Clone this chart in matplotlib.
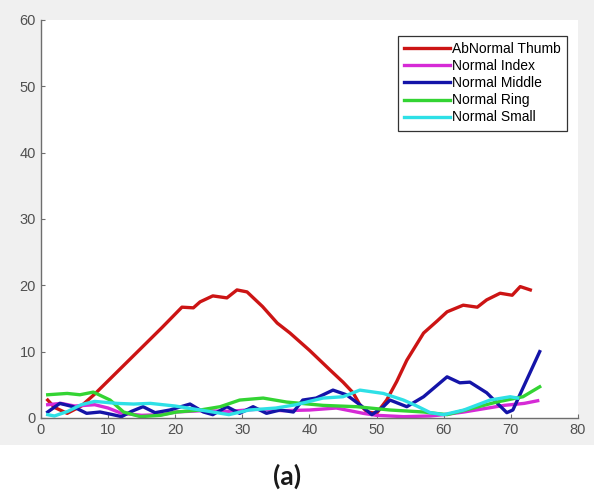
import matplotlib.pyplot as plt
from matplotlib.patches import Rectangle

thumb_x = [1, 2, 3.9, 6, 8, 10, 12, 14, 16, 18, 21, 22.7, 23.7, 25.6, 27.7, 29.2, 30.7, 33, 35.2,
           37.1, 40, 43.1, 45, 46.5, 47.5, 48.6, 50, 51.5, 53, 54.5, 57, 59, 60.5, 62.9, 65, 66.4,
           68.4, 70.2, 71.4, 72.9]
thumb_y = [2.7, 1.6, 0.7, 1.8, 3.6, 5.6, 7.6, 9.6, 11.6, 13.6, 16.7, 16.6, 17.5, 18.4, 18.1, 19.3,
           19.0, 16.8, 14.3, 12.8, 10.2, 7.2, 5.4, 3.8, 2.0, 0.9, 0.7, 2.7, 5.5, 8.7, 12.8, 14.6,
           16.0, 17.0, 16.7, 17.8, 18.8, 18.5, 19.8, 19.3]

index_x = [1, 3, 5, 8, 10, 12, 15, 18, 20, 24, 28, 32, 36, 40, 44, 48, 50, 54, 58, 60, 63, 66,
           69, 72, 74]
index_y = [2.0, 2.2, 1.8, 2.0, 1.5, 0.7, 0.4, 0.5, 0.9, 1.1, 1.0, 1.3, 1.1, 1.2, 1.5, 0.7, 0.4,
           0.2, 0.3, 0.5, 0.9, 1.4, 1.9, 2.2, 2.6]

middle_x = [1, 2.8, 4.8, 6.8, 8.8, 10.7, 12, 13.5, 15.2, 17, 19.2, 22.2, 24.2, 25.6, 27.7, 29.6,
            31.6, 33.6, 35.6, 37.6, 39, 41, 43.5, 45.5, 47.5, 49.3, 51, 52, 54.5, 57, 60.5, 62.4,
            63.9, 66.4, 67.9, 69.4, 70.3, 74.3]
middle_y = [0.9, 2.2, 1.7, 0.7, 0.9, 0.5, 0.2, 1.0, 1.7, 0.8, 1.2, 2.1, 0.9, 0.5, 1.7, 0.7, 1.7,
            0.7, 1.2, 0.9, 2.7, 3.0, 4.2, 3.5, 2.0, 0.5, 1.7, 2.7, 1.7, 3.2, 6.2, 5.3, 5.4, 3.8,
            2.3, 0.8, 1.2, 10.0]

ring_x = [1, 3.9, 5.8, 7.8, 10.3, 12.3, 14.8, 17.8, 20.2, 23.7, 26.7, 29.6, 33.1, 36.6, 42, 47,
          52, 57, 60.5, 64.4, 67.9, 71.8, 74.3]
ring_y = [3.5, 3.7, 3.5, 3.9, 2.7, 0.9, 0.2, 0.4, 0.9, 1.2, 1.7, 2.7, 3.0, 2.4, 1.9, 1.7, 1.2,
          0.9, 0.5, 1.5, 2.4, 3.2, 4.7]

small_x = [1, 2, 4, 6, 8, 11.3, 13.8, 16.3, 20, 25, 28, 31, 35, 38, 40, 42, 45, 47.5, 51, 54,
           56, 58, 60, 63, 66.9, 69.9, 71]
small_y = [0.5, 0.3, 1.0, 2.0, 2.5, 2.2, 2.1, 2.2, 1.8, 1.0, 0.5, 1.2, 1.5, 2.0, 2.5, 3.0, 3.2,
           4.2, 3.7, 2.7, 1.8, 0.8, 0.5, 1.2, 2.7, 3.2, 3.0]

series = [
    ('AbNormal Thumb', thumb_x, thumb_y, '#cc1414'),
    ('Normal Index', index_x, index_y, '#d62ad6'),
    ('Normal Middle', middle_x, middle_y, '#1414a8'),
    ('Normal Ring', ring_x, ring_y, '#33d433'),
    ('Normal Small', small_x, small_y, '#2ee0e6'),
]

plt.rcParams['font.family'] = ['Liberation Sans', 'DejaVu Sans']

fig = plt.figure(figsize=(5.94, 4.97), dpi=100, facecolor='white')
# grey matlab-style figure background (screenshot area)
fig.add_artist(Rectangle((0, 0.105), 1, 0.895, transform=fig.transFigure,
                         facecolor='#f0f0f0', edgecolor='none', zorder=-10))

ax = fig.add_axes([0.069, 0.159, 0.904, 0.801])
ax.set_zorder(5)
ax.set_facecolor('white')
for name, xs, ys, col in series:
    ax.plot(xs, ys, color=col, lw=2.4, label=name, solid_joinstyle='round')

ax.set_xlim(0, 80)
ax.set_ylim(0, 60)
ax.set_xticks(range(0, 81, 10))
ax.set_yticks(range(0, 61, 10))
ax.spines['top'].set_visible(False)
ax.spines['right'].set_visible(False)
for s in ('left', 'bottom'):
    ax.spines[s].set_color('#6e6e6e')
    ax.spines[s].set_linewidth(1.0)
ax.tick_params(direction='in', length=3, color='#6e6e6e', labelcolor='#505050', labelsize=10.5)

leg = ax.legend(loc='upper right', bbox_to_anchor=(0.987, 0.97), fontsize=10,
                fancybox=False, framealpha=1, edgecolor='#333333', handlelength=3.3,
                handletextpad=0.15, labelspacing=0.22, borderpad=0.45, borderaxespad=0.3)
leg.get_frame().set_linewidth(0.9)

fig.text(0.484, 0.042, '(a)', ha='center', va='center', fontsize=19, fontweight='bold',
         family=['Lato', 'DejaVu Sans'], color='#1a1a1a')

fig.savefig('out.png', dpi=100)
